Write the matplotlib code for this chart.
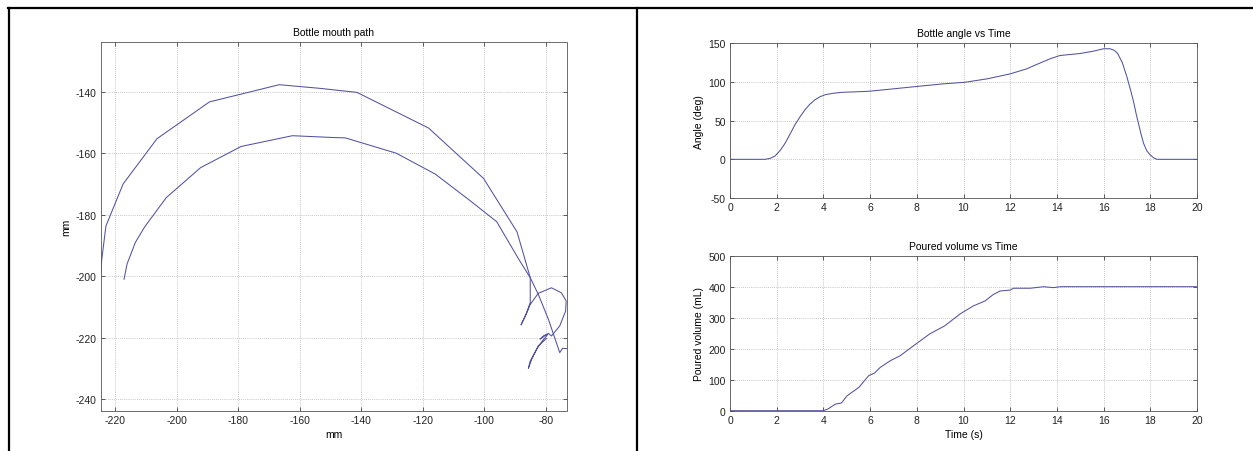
import matplotlib
matplotlib.use("Agg")
import matplotlib.pyplot as plt
from matplotlib.lines import Line2D
import numpy as np

plt.rcParams['font.family'] = ['Liberation Sans', 'DejaVu Sans']
plt.rcParams['axes.unicode_minus'] = False

# ---- Bottle mouth path (two traced segments) ----
outer_x = [-224.7, -224.5, -223.1, -217.5, -206.5, -189.4, -166.7, -153.3, -141.4,
           -118.1, -100.2, -89.3, -85.0, -85.0, -86.6, -88.0, -87.5, -86.1, -85.0,
           -82.4, -78.1, -74.9, -73.3, -73.5, -75.4, -78.1, -79.1, -81.8, -80.5,
           -79.3, -81.0, -82.9, -85.0, -85.6, -84.5, -82.4, -79.7]
outer_y = [-199.0, -195.0, -183.7, -170.0, -155.3, -143.3, -137.7, -138.9, -140.2,
           -151.8, -168.2, -185.6, -200.5, -208.6, -213.0, -215.9, -214.8, -211.9, -209.2,
           -205.6, -203.8, -205.4, -208.1, -211.4, -216.2, -219.5, -218.6, -220.5, -219.3,
           -219.0, -221.0, -223.8, -227.6, -230.0, -227.0, -222.7, -220.3]

inner_x = [-217.2, -216.2, -213.5, -210.5, -203.5, -192.3, -179.1, -162.4, -148.9,
           -145.2, -128.6, -115.9, -104.5, -95.9, -88.8, -85.0, -82.4, -79.1, -75.4,
           -74.5, -73.2]
inner_y = [-201.0, -196.0, -189.0, -184.0, -174.5, -164.7, -157.8, -154.3, -154.9,
           -155.0, -160.0, -166.8, -175.5, -182.3, -194.4, -200.5, -205.9, -214.0, -224.9,
           -223.5, -223.6]

# ---- Bottle angle vs time ----
angle_t = [0.0, 1.5, 1.72, 1.93, 2.15, 2.36, 2.57, 2.78, 3.0, 3.21, 3.43, 3.64, 3.85, 4.07,
           4.4, 4.78, 5.92, 6.92, 8.07, 9.07, 10.06, 11.0, 11.99, 12.7, 13.2, 13.7, 14.13,
           14.99, 15.56, 15.99, 16.27, 16.45, 16.6, 16.8, 16.99, 17.15, 17.28, 17.4, 17.49,
           17.6, 17.71, 17.85, 18.0, 18.15, 18.29, 20.0]
angle_deg = [0.0, 0.0, 1.2, 4.3, 11.5, 20.8, 32.5, 44.6, 55.0, 64.0, 71.5, 77.0, 80.8, 83.5,
             85.3, 86.6, 87.9, 90.9, 94.4, 97.4, 99.6, 104.0, 110.4, 116.9, 123.5, 129.9, 134.2,
             136.8, 139.8, 142.9, 143.0, 141.0, 137.0, 125.0, 107.4, 90.0, 74.9, 58.0, 46.8,
             33.0, 20.8, 11.0, 5.6, 1.8, 0.0, 0.0]

# ---- Poured volume vs time ----
vol_t = [0.0, 4.0, 4.18, 4.52, 4.77, 5.02, 5.52, 5.94, 6.19, 6.44, 6.86, 7.28, 7.87,
         8.54, 9.2, 9.87, 10.42, 10.92, 11.28, 11.56, 11.99, 12.14, 12.86, 13.43, 13.85,
         14.14, 20.0]
vol_ml = [0.0, 0.0, 5.0, 21.5, 24.7, 48.4, 75.3, 113.0, 121.5, 140.0, 161.0, 177.0, 210.0,
          247.0, 274.0, 313.0, 338.0, 354.0, 375.0, 386.0, 389.0, 395.0, 395.0, 400.0, 397.0,
          400.0, 400.0]

W, H = 1253, 452
fig = plt.figure(figsize=(W / 100, H / 100), dpi=100)

line_color = '#5252a0'
fs = 7.5

def style(ax):
    ax.grid(True, color='#b4b4b4', linestyle=(0, (1, 1.5)), linewidth=0.6)
    ax.tick_params(direction='in', length=3, width=0.5, labelsize=fs, colors='#222222',
                   top=True, right=True, pad=3)
    for s in ax.spines.values():
        s.set_linewidth(0.6)
        s.set_color('#555555')
    ax.set_axisbelow(True)

def rect(x0, y0, x1, y1):
    return [x0 / W, 1 - y1 / H, (x1 - x0) / W, (y1 - y0) / H]

# left axes
ax1 = fig.add_axes(rect(101, 43.3, 566.5, 411.7))
ax1.plot(outer_x, outer_y, color=line_color, lw=0.75)
ax1.plot(inner_x, inner_y, color=line_color, lw=0.75)
ax1.set_xlim(-224.7, -73.2)
ax1.set_ylim(-243.8, -123.9)
ax1.set_xticks(np.arange(-220, -79, 20))
ax1.set_yticks(np.arange(-240, -139, 20))
ax1.set_title('Bottle mouth path', fontsize=fs, pad=5)
ax1.set_xlabel('mm', fontsize=fs, labelpad=3)
ax1.set_ylabel('mm', fontsize=fs, labelpad=3)
style(ax1)

# right top
ax2 = fig.add_axes(rect(730, 44.3, 1197, 199))
ax2.plot(angle_t, angle_deg, color=line_color, lw=0.75)
ax2.set_xlim(0, 20)
ax2.set_ylim(-50, 150)
ax2.set_xticks(np.arange(0, 21, 2))
ax2.set_yticks(np.arange(-50, 151, 50))
ax2.set_title('Bottle angle vs Time', fontsize=fs, pad=5)
ax2.set_ylabel('Angle (deg)', fontsize=fs, labelpad=3)
style(ax2)

# right bottom
ax3 = fig.add_axes(rect(730, 256.7, 1197, 411.7))
ax3.plot(vol_t, vol_ml, color=line_color, lw=0.75)
ax3.set_xlim(0, 20)
ax3.set_ylim(0, 500)
ax3.set_xticks(np.arange(0, 21, 2))
ax3.set_yticks(np.arange(0, 501, 100))
ax3.set_title('Poured volume vs Time', fontsize=fs, pad=5)
ax3.set_xlabel('Time (s)', fontsize=fs, labelpad=3)
ax3.set_ylabel('Poured volume (mL)', fontsize=fs, labelpad=3)
style(ax3)

# table-like borders
def fl(x, y):
    fig.add_artist(Line2D([xx / W for xx in x], [1 - yy / H for yy in y],
                          color='black', lw=1.6, transform=fig.transFigure))

fl([8, W], [9, 9])
fl([9, 9], [9, H])
fl([637, 637], [9, H])

fig.savefig('out.png', dpi=100, facecolor='white')
